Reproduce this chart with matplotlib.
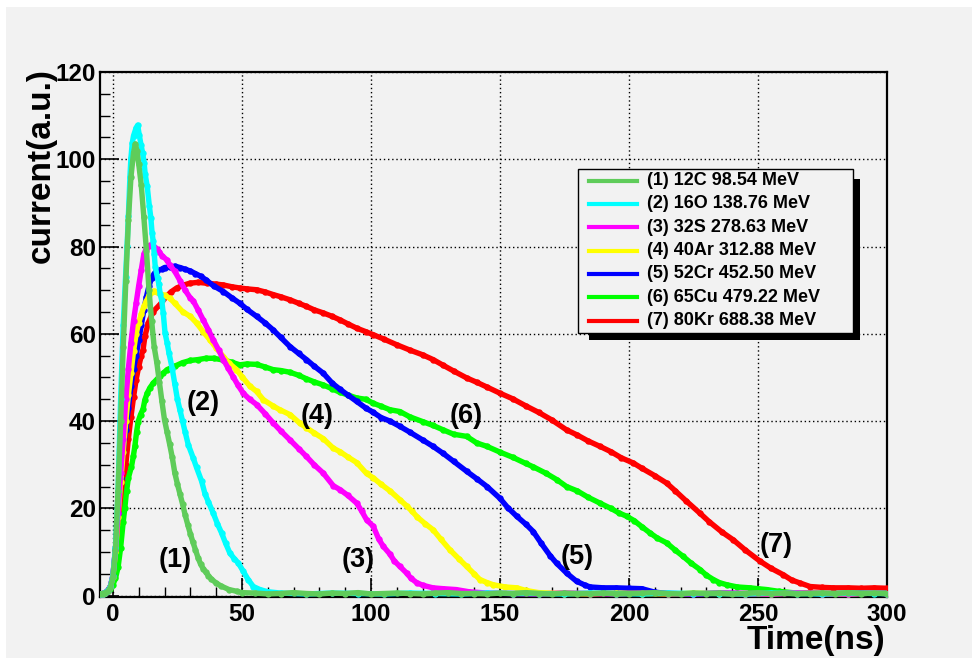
import matplotlib
matplotlib.use("Agg")
import matplotlib.pyplot as plt
from matplotlib.patches import Rectangle
from matplotlib.lines import Line2D
from matplotlib.ticker import MultipleLocator

plt.rcParams['font.family'] = ['Liberation Sans', 'DejaVu Sans']
plt.rcParams['font.weight'] = 'bold'

# ---------------- data (time ns, current a.u.) ----------------
S1 = [(-5,0.3),(-4,0.5),(-3,0.6),(-2,1.0),(-1,1.8),(0,4.2),(1,10.5),(2,24),(3,40),(4,57),(5,72),(6,86),(7,96),(8,101.5),
      (8.7,103.5),(9.3,102),(10,99),(11,94),(12,86.7),(13,79),(14,70),(15,63),(16,57),(17,53.5),(18,49),(19,44.5),(20,40.3),
      (21,37.5),(22,34.7),(23,31.7),(24,28.1),(25,25.6),(26,23.3),(27,21),(28,18.5),(29,16.3),(30,14.2),(31,12.3),(32,10.5),
      (33,8.7),(34,7.2),(35,6.2),(36,5.4),(37,4.6),(38,3.9),(40,2.9),(42,2.2),(45,1.4),(48,1.0),(50,0.7),
      (55,0.6),(60,0.4),(65,0.5),(70,0.7),(75,0.5),(80,0.4),(85,0.6),(90,0.5),(95,0.7),(100,0.4),(105,0.5),(110,0.6),
      (115,0.5),(120,0.4),(125,0.6),(130,0.7),(135,0.5),(140,0.5),(145,0.4),(150,0.6),(155,0.5),(160,0.7),(165,0.5),
      (170,0.4),(175,0.6),(180,0.5),(185,0.5),(190,0.6),(195,0.4),(200,0.5),(205,0.6),(210,0.7),(215,0.5),(220,0.4),
      (225,0.6),(230,0.5),(235,0.6),(240,0.4),(245,0.5),(250,0.7),(255,0.5),(260,0.6),(265,0.4),(270,0.5),(275,0.6),
      (280,0.5),(285,0.7),(290,0.5),(295,0.6),(300,0.5)]

S2 = [(-5,0.3),(-4,0.5),(-3,0.7),(-2,1.1),(-1,2.0),(0,4.5),(1,11),(2,24),(3,45),(4,62),(4.9,73),(5.5,80.2),(6,87),
      (6.6,96),(7,100.4),(7.5,103.7),(8,105.4),(9,107.2),(9.6,107.8),(10.2,105.6),(10.9,103.3),(11.5,101.5),(12.1,99.2),
      (12.5,96.6),(13.3,93.8),(14.1,89.4),(14.7,86.6),(15.2,83),(15.6,81.3),(16,78.4),(16.4,75.4),(17.3,72.8),(17.8,71.5),
      (18.3,69.2),(18.9,67.7),(19.5,64.8),(20.2,60.2),(21,58),(21.7,55.7),(23,52),(24,48.5),(25,45),(26,42.5),(27,40),
      (28,37.5),(29.2,34.6),(31.1,31.6),(32.4,29.4),(34.4,26.2),(35.7,23.3),(37,21.5),(38.9,18.9),(40.5,16.5),
      (42.1,14.4),(43.7,12),(45.3,9.8),(47,8.5),(48.6,7.5),(50.5,5.6),(52.4,3.7),(54.4,2.1),(57,1.4),(60,0.9),
      (65,0.6),(75,0.4),(85,0.6),(95,0.5),(105,0.4),(115,0.6),(125,0.5),(135,0.4),(145,0.6),(155,0.5),(165,0.5),
      (175,0.4),(185,0.6),(195,0.5),(205,0.4),(215,0.6),(225,0.5),(235,0.5),(245,0.4),(255,0.6),(265,0.5),(275,0.4),
      (285,0.6),(295,0.5),(300,0.5)]

S3 = [(-5,0.3),(-4,0.4),(-3,0.6),(-2,1.0),(-1,2.0),(0,4.5),(1,10.5),(2,19),(3,28),(4,36),(5,45),(6,52),(7,58),(8,63),
      (9,67),(10,71),(11,74.7),(12,78.3),(13,79.5),(14,80.2),(15,80.5),(16,80),(17,79.5),(18,78.8),(19,77.9),(20.8,77),
      (22,75.8),(24,74.3),(26,72.2),(28,70),(30,68.2),(31.1,67.6),(33,65.5),(35,63.2),(37,60.9),(38.9,58.6),(41,56.3),
      (42.8,54.1),(44.7,52.1),(46.6,50.2),(48.5,48.2),(50.5,46.4),(53,45),(55.7,43.8),(59,41.7),(62.1,39.6),(65,37.8),
      (68.6,35.7),(72,33.7),(75,31.9),(78,30),(81.5,28.1),(85.4,25.2),(88,24.3),(91,23),(94.5,21.2),(96.5,19.3),
      (98.3,17.4),(100.9,15.9),(103,13),(104.8,11.3),(107.4,9.5),(109,8),(111.2,6.7),(113.8,5.2),(115.5,4),(117.7,3),
      (120,2.4),(124,1.8),(128,1.6),(133,1.4),(138,0.9),(145,0.6),(155,0.5),(165,0.4),(175,0.6),(185,0.5),(195,0.4),
      (205,0.6),(215,0.5),(225,0.4),(235,0.6),(245,0.5),(255,0.4),(265,0.6),(275,0.5),(285,0.4),(295,0.6),(300,0.5)]

S4 = [(-5,0.3),(-4,0.5),(-3,0.6),(-2,1.0),(-1,2.0),(0,4.3),(1,10),(2,18),(3,26),(4,33),(5,40),(6,46),(7,51),(8,56),
      (9,60),(10,62.5),(11,64.5),(12,66.3),(13,67.5),(14,68.8),(15,69.5),(16,69.8),(17,69.6),(18,69.3),(20,68.8),
      (22,68.2),(24,67),(27,65.1),(30,64),(32.4,62.5),(35,60.5),(37.6,58.6),(40,56.8),(42.8,54.8),(45,53.3),(47.9,51.8),
      (50,50.2),(53.1,48),(55.7,46.8),(58.3,44.9),(62,43.5),(64.7,42.6),(68.6,41.5),(72.5,39.5),(75,38.5),(78,37.3),
      (81.5,36),(85.4,33.8),(88,33),(91,31.8),(94.5,30.5),(98.3,28),(100.9,27),(104,25.5),(107.4,24),(111.2,22),
      (113.8,20.6),(116,19.3),(118,18),(121,16.5),(124.1,15.1),(127,13),(130.6,10.5),(134,8.5),(137.1,6.7),(140,5),
      (142.2,3.7),(145,3),(147.4,2.5),(152,2),(156.5,1.8),(160,1.2),(165,0.7),(175,0.5),(185,0.4),(195,0.6),(205,0.5),
      (215,0.4),(225,0.6),(235,0.5),(245,0.5),(255,0.4),(265,0.6),(275,0.5),(285,0.4),(295,0.6),(300,0.5)]

S5 = [(-5,0.3),(-4,0.5),(-3,0.7),(-2,1.2),(-1,2.1),(0,4.6),(1,10.8),(2,19),(3,27),(4,33),(5,38),(6,43),(7,48),(8,52),
      (9,55),(10,58.5),(11,62),(12,65.5),(13,68.5),(14,71),(15,72.8),(16,73.8),(17,74.5),(18.9,74.8),(20,75.2),(22,75.3),
      (24,75.5),(26,75.2),(28,74.8),(30,74.4),(32,73.8),(34,73.2),(36,72.4),(39,71),(42.8,69.7),(46,68.3),(49.2,67),
      (52,65.6),(55.7,64),(59,62.5),(62.1,60.9),(65,59.2),(68.6,57.1),(72,55.5),(75,54.1),(78,52.6),(81.5,51),
      (85,48.7),(88,47.3),(91,46),(94.5,44.5),(98,43),(100.9,42),(104,40.8),(107.4,40),(111.2,38.8),(115,37.5),
      (120,35.7),(124.1,34.2),(128,32.6),(132,30.8),(137.1,28.5),(141,26.8),(145,25),(150,22.3),(153,20.2),(156.5,18.2),
      (160,16.4),(162.9,14.7),(166,12),(169.4,9.2),(172,7.4),(175.8,5.2),(179.7,3.3),(183,2.4),(185,2),(190,1.8),
      (195,1.8),(200,1.7),(205,1.6),(210,0.8),(215,0.5),(225,0.4),(235,0.6),(245,0.5),(255,0.4),(265,0.6),(275,0.5),
      (285,0.4),(295,0.6),(300,0.5)]

S6 = [(-5,0.2),(-4,0.4),(-3,0.6),(-2,1.0),(-1,1.5),(0,2.5),(1,4),(2,6.5),(3,11),(4,17),(4.6,20),(5.3,24),(6,27),
      (7.2,29.6),(7.9,31.9),(8.5,34.2),(9.2,37.6),(9.8,39.9),(10.7,41.5),(11.7,42.8),(12.4,44.9),(13.3,46.4),(14.3,47.6),
      (15.6,48.7),(16.9,49.5),(18.2,50.3),(19.5,51),(21,51.8),(24,52.6),(27,53.4),(30,53.9),(33,54.1),(36,54.4),(39,54.4),
      (42.8,54),(46,53.5),(49.2,52.9),(52,53.1),(55.7,53),(59,52.4),(62.1,51.8),(65,51.6),(68.6,51.2),(72,50.5),(75,49.7),
      (78,49),(81.5,48.3),(85,47.4),(88,46.6),(91,46),(94.5,45.3),(98,45),(100.9,44.1),(104,43.4),(107.4,42.6),
      (111.2,42.2),(115,41),(120,39.9),(124.1,39),(128,38),(132,37),(137.1,36.5),(141,35),(145,34.2),(150,32.9),
      (155,31.7),(160,30.3),(163,29.5),(168,28),(172,26.6),(175.8,25),(180,24),(184,22.6),(188.8,21.2),(193,20),
      (196,19),(199.1,18.2),(202,17.2),(205,15.8),(208.1,14.4),(211,13.2),(214.6,12.1),(218,10.4),(221,9),(224,7.5),
      (227.5,6),(230,4.7),(232.7,3.7),(235,3),(237.9,2.5),(242,2),(246.9,1.8),(250,1.6),(253.4,1.4),(258,1.0),
      (265,0.6),(275,0.5),(285,0.4),(295,0.6),(300,0.5)]

S7 = [(-5,0.3),(-4,0.5),(-3,0.6),(-2,1.1),(-1,2.0),(0,4.2),(1,9.5),(2,17),(3,21),(4,24),(5,30),(6,36),(7,41),(8,45.5),
      (9,49.5),(10,52.5),(11,55),(11.7,56.4),(12.4,59.4),(13.7,62.5),(15.6,65.1),(18.2,66.7),(20.8,68.6),(22.5,69.6),
      (24.7,70.5),(27,71.1),(29.8,71.6),(33,71.8),(36.3,71.6),(40,71.4),(42.8,71.2),(46,70.8),(49.2,70.5),(52,70.3),
      (55.7,70.1),(59,69.6),(62.1,69),(65,68.5),(68.6,67.8),(72,67),(75,66.3),(78,65.5),(81.5,64.8),(85,64),(88,63.2),
      (91,62.3),(94.5,61.3),(98,60.5),(100.9,59.8),(105,58.8),(110,57.5),(115,56.3),(120,55.2),(124.1,54.1),(128,52.8),
      (132,51.5),(137.1,49.9),(141,48.9),(145,47.8),(150,46.4),(155,45.1),(160,43.5),(165,42),(170,40.3),(175.8,38),
      (180,36.8),(184,35.5),(188.8,34.2),(193,33),(197,31.6),(201.7,30.4),(205,29.2),(210,27.5),(214.6,25.8),(218,24),
      (222,21.8),(227.5,18.9),(231,17),(236,14.6),(240.4,12.8),(245,10.5),(250.8,7.9),(255,6.3),(259.8,4.8),(263,3.6),
      (266.3,2.9),(270.2,2.1),(275,1.9),(279.2,1.8),(285,1.8),(290,1.7),(295,1.8),(300,1.7)]

SERIES = [S1, S2, S3, S4, S5, S6, S7]
LABELS = ["(1) 12C 98.54 MeV", "(2) 16O 138.76 MeV", "(3) 32S 278.63 MeV", "(4) 40Ar 312.88 MeV",
          "(5) 52Cr 452.50 MeV", "(6) 65Cu 479.22 MeV", "(7) 80Kr 688.38 MeV"]
COLORS = ["#5fcc5a", "#00ffff", "#ff00ff", "#ffff00", "#0000ff", "#00ff00", "#ff0000"]

TAG_TEXT = ["(1)", "(2)", "(3)", "(4)", "(5)", "(6)", "(7)"]
TAG_T = [24, 35, 95, 79, 180, 137, 257]
TAG_V = [8.2, 44.1, 8.2, 41.1, 8.9, 41.1, 11.7]

X_TICKS = [0, 50, 100, 150, 200, 250, 300]
Y_TICKS = [0, 20, 40, 60, 80, 100, 120]

# ---------------- figure ----------------
W, H = 972, 660
fig = plt.figure(figsize=(W / 100, H / 100), dpi=100, facecolor="white")

def fx(x):
    return x / W

def fy(y):
    return 1 - y / H

fig.patches.append(Rectangle((fx(6), fy(658)), 1, (658 - 7) / H, transform=fig.transFigure,
                             facecolor="#f2f2f2", edgecolor="none", zorder=-10))

ax = fig.add_axes([fx(100), fy(597), fx(887) - fx(100), fy(72) - fy(597)])
ax.set_facecolor("#f2f2f2")
ax.set_xlim(-5, 300)
ax.set_ylim(-0.3, 120)

for i in range(len(SERIES) - 1, -1, -1):
    t = [p[0] for p in SERIES[i]]
    v = [p[1] for p in SERIES[i]]
    ax.plot(t, v, color=COLORS[i], lw=3.9, marker='o', ms=4.6, mew=0,
            solid_joinstyle='round', solid_capstyle='round', zorder=3 + (len(SERIES) - i))

for txt, t, v in zip(TAG_TEXT, TAG_T, TAG_V):
    ax.text(t, v, txt, ha='center', va='center', fontsize=19.5, fontweight='bold', zorder=20)

ax.set_xticks(X_TICKS)
ax.set_yticks(Y_TICKS)
ax.xaxis.set_minor_locator(MultipleLocator(10))
ax.yaxis.set_minor_locator(MultipleLocator(5))
ax.grid(True, which='major', linestyle=(0, (1, 2)), color='black', lw=1.0, zorder=1)
ax.tick_params(which='major', direction='in', length=14, width=1.2, labelsize=17.5,
               top=False, right=False)
ax.tick_params(which='minor', direction='in', length=7, width=1.0, top=False, right=False)
ax.tick_params(axis='x', which='major', pad=4)
ax.tick_params(axis='y', which='major', pad=3)
for lab in ax.get_xticklabels() + ax.get_yticklabels():
    lab.set_fontweight('bold')
for sp in ax.spines.values():
    sp.set_linewidth(1.6)

fig.text(fx(41), fy(68), "current(a.u.)", rotation=90, ha='center', va='top',
         fontsize=24, fontweight='bold')
fig.text(fx(885), fy(640), "Time(ns)", ha='right', va='center', fontsize=24, fontweight='bold')

# legend (ROOT style box with shadow)
fig.patches.append(Rectangle((fx(589), fy(340)), fx(860) - fx(589), fy(179) - fy(340),
                             transform=fig.transFigure, facecolor='black', edgecolor='none', zorder=30))
fig.patches.append(Rectangle((fx(578), fy(333)), fx(853) - fx(578), fy(169) - fy(333),
                             transform=fig.transFigure, facecolor='#f2f2f2', edgecolor='black', lw=1.0, zorder=31))
for i, (lab, col) in enumerate(zip(LABELS, COLORS)):
    yy = 180.7 + i * 23.3
    fig.add_artist(Line2D([fx(589), fx(637)], [fy(yy), fy(yy)], transform=fig.transFigure,
                          color=col, lw=3.0, zorder=32))
    fig.text(fx(647), fy(yy), lab, ha='left', va='center', fontsize=13, fontweight='bold', zorder=33)

fig.savefig("out.png", dpi=100, facecolor=fig.get_facecolor())
